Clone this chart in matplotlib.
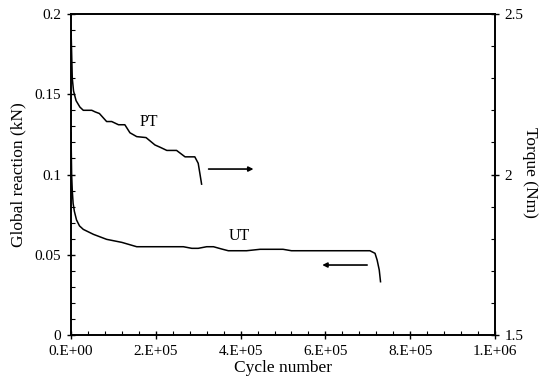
import matplotlib
matplotlib.use("Agg")
import matplotlib.pyplot as plt
from matplotlib.ticker import MultipleLocator, FixedLocator, FixedFormatter

plt.rcParams['font.family'] = ['Liberation Serif', 'DejaVu Serif']

# Data
ut_cycles = [0, 1500, 3000, 5000, 8000, 13000, 20000, 29000, 53000, 84000, 120000, 155000,
             265000, 285000, 300000, 320000, 336000, 355000, 371000, 414000, 446000,
             500000, 520000, 705000, 717000, 722000, 727000, 730000]
ut_reaction = [0.126, 0.100, 0.090, 0.082, 0.077, 0.0717, 0.068, 0.0658, 0.0627, 0.0596, 0.0577, 0.055,
               0.055, 0.054, 0.054, 0.055, 0.055, 0.0536, 0.0525, 0.0525, 0.0534,
               0.0534, 0.0525, 0.0525, 0.0509, 0.0467, 0.0405, 0.0332]

pt_cycles = [0, 1500, 3000, 6000, 12000, 21000, 29000, 49000, 57000, 67000, 84000, 96000,
             112000, 127000, 139000, 155000, 177000, 198000, 210000, 226000, 249000,
             269000, 292000, 300000, 304000, 308000]
pt_torque = [2.455, 2.38, 2.30, 2.26, 2.23, 2.21, 2.20, 2.20, 2.195, 2.19, 2.165, 2.165,
             2.155, 2.155, 2.13, 2.118, 2.115, 2.092, 2.085, 2.075, 2.075,
             2.055, 2.055, 2.035, 2.003, 1.97]

x_ticks = [0, 200000, 400000, 600000, 800000, 1000000]
x_labels = ["0.E+00", "2.E+05", "4.E+05", "6.E+05", "8.E+05", "1.E+06"]
y_ticks = [0, 0.05, 0.1, 0.15, 0.2]
y_labels = ["0", "0.05", "0.1", "0.15", "0.2"]
y2_ticks = [1.5, 2.0, 2.5]
y2_labels = ["1.5", "2", "2.5"]

fig = plt.figure(figsize=(5.39, 3.88), dpi=100)
ax = fig.add_axes([71/539, 1-335/388, (495-71)/539, (335-14)/388])
ax2 = ax.twinx()

ax.plot(ut_cycles, ut_reaction, color='black', lw=1.1)
ax2.plot(pt_cycles, pt_torque, color='black', lw=1.1)

ax.set_xlim(0, 1e6)
ax.set_ylim(0, 0.2)
ax2.set_ylim(1.5, 2.5)

ax.xaxis.set_major_locator(FixedLocator(x_ticks))
ax.xaxis.set_major_formatter(FixedFormatter(x_labels))
ax.xaxis.set_minor_locator(MultipleLocator(40000))
ax.yaxis.set_major_locator(FixedLocator(y_ticks))
ax.yaxis.set_major_formatter(FixedFormatter(y_labels))
ax.yaxis.set_minor_locator(MultipleLocator(0.01))
ax2.yaxis.set_major_locator(FixedLocator(y2_ticks))
ax2.yaxis.set_major_formatter(FixedFormatter(y2_labels))
ax2.yaxis.set_minor_locator(MultipleLocator(0.1))

ax.tick_params(axis='both', which='major', direction='inout', length=6, width=1, labelsize=11, pad=4)
ax.tick_params(axis='both', which='minor', direction='in', length=3, width=0.8)
ax.tick_params(top=False, right=False, which='both')
ax2.tick_params(axis='y', which='major', direction='inout', length=6, width=1, labelsize=11, pad=4)
ax2.tick_params(axis='y', which='minor', direction='in', length=3, width=0.8)

for a in (ax, ax2):
    for s in a.spines.values():
        s.set_linewidth(1.2)

ax.set_xlabel("Cycle number", fontsize=12.5, labelpad=2)
ax.set_ylabel("Global reaction (kN)", fontsize=12.5, labelpad=6)
fig.text(530/539, 1-172/388, "Torque (Nm)", fontsize=12.5, rotation=270,
         ha='center', va='center')

ax.text(184000, 0.1327, "PT", fontsize=11.5, ha='center', va='center')
ax.text(397000, 0.0615, "UT", fontsize=11.5, ha='center', va='center')

ax2.annotate("", xy=(437000, 2.017), xytext=(318000, 2.017),
             arrowprops=dict(arrowstyle='-|>', color='black', lw=1.2, mutation_scale=7))
ax.annotate("", xy=(586000, 0.0436), xytext=(705000, 0.0436),
            arrowprops=dict(arrowstyle='-|>', color='black', lw=1.2, mutation_scale=7))

fig.savefig("out.png", dpi=100)
